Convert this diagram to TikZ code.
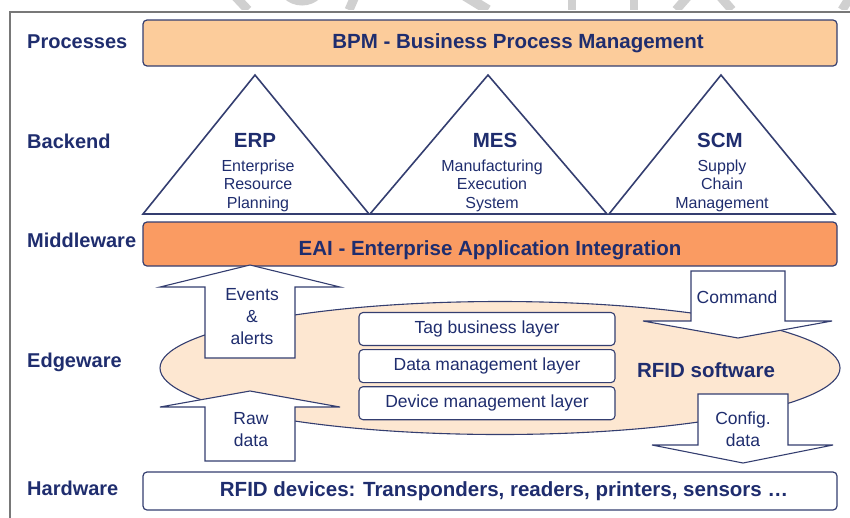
\documentclass[tikz,border=0pt]{standalone}
\usepackage{fontspec}
\setmainfont{Liberation Sans}
\usetikzlibrary{positioning,shapes.geometric}
\definecolor{rfidNavy}{RGB}{31,45,110}
\definecolor{rfidLine}{RGB}{52,62,112}
\definecolor{rfidLightOrange}{RGB}{252,204,155}
\definecolor{rfidOrange}{RGB}{250,155,98}
\definecolor{rfidPeach}{RGB}{253,231,209}
\definecolor{rfidFrame}{RGB}{120,120,120}
\definecolor{rfidMark}{RGB}{208,208,208}

\begin{document}
\begin{tikzpicture}[x=1pt, y=-1pt,
    tier/.style={anchor=west, inner sep=0pt, text=rfidNavy, font=\bfseries\fontsize{20}{22}\selectfont},
    bar/.style={draw=rfidLine, line width=1.2pt, rounded corners=4pt, minimum width=694pt, inner sep=0pt},
    bartext/.style={text=rfidNavy, inner sep=0pt, font=\bfseries\fontsize{20.5}{22}\selectfont},
    layerbox/.style={draw=rfidLine, line width=1.1pt, rounded corners=4pt, fill=white, minimum width=256pt, minimum height=33pt, inner sep=0pt, text=rfidNavy, font=\fontsize{17.5}{19}\selectfont},
    flow/.style={draw=rfidLine, line width=1.1pt, fill=white},
    flowtext/.style={text=rfidNavy, align=center, inner sep=0pt, font=\fontsize{17.5}{22}\selectfont},
    apptitle/.style={text=rfidNavy, inner sep=0pt, font=\bfseries\fontsize{20.5}{22}\selectfont},
    appname/.style={text=rfidNavy, align=center, inner sep=0pt, font=\fontsize{16}{18.5}\selectfont},
    app/.style={draw=rfidLine, line width=1.6pt, line join=miter}]
    \useasboundingbox (0,0) rectangle (850,517);

    % watermark and frame
    \begin{scope}
        \clip (0,0) rectangle (850,9);
        \draw[rfidMark, line width=9pt] (233,-6) -- (248,10);
        \draw[rfidMark, line width=9pt] (302,-21) circle (22pt);
        \draw[rfidMark, line width=9pt] (356,-6) -- (349,10);
        \draw[rfidMark, line width=10pt] (462,-6) -- (488,10);
        \draw[rfidMark, line width=8pt] (572,-6) -- (572,10);
        \draw[rfidMark, line width=8pt] (634,-6) -- (634,10);
        \draw[rfidMark, line width=9pt] (690,-6) -- (676,10);
        \draw[rfidMark, line width=9pt] (718,-6) -- (732,10);
        \draw[rfidMark, line width=9pt] (852,-6) -- (842,10);
    \end{scope}
    \draw[rfidFrame, line width=1.4pt] (10,530) -- (10,12) -- (860,12);

    % tiers
    \node[tier] (processes) at (27,42) {Processes};
    \node[tier] (backend) at (27,141) {Backend};
    \node[tier] (middleware) at (27,240) {Middleware};
    \node[tier] (edgeware) at (27,362) {Edgeware};
    \node[tier] (hardware) at (27,488) {Hardware};

    % processes
    \node[bar, fill=rfidLightOrange, minimum height=46pt] (bpm) at (490,43) {};
    \node[bartext, xshift=28pt] at (bpm) {BPM - Business Process Management};

    % backend
    \draw[app] (143,214) -- (255,75) -- (369,214) -- cycle;
    \draw[app] (370,214) -- (488,75) -- (607,214) -- cycle;
    \draw[app] (609,214) -- (721,75) -- (835,214) -- cycle;
    \node[apptitle] (erp) at (255,140) {ERP};
    \node[appname, below=12pt of erp, xshift=3pt] {Enterprise\\Resource\\Planning};
    \node[apptitle] (mes) at (495,140) {MES};
    \node[appname, below=12pt of mes, xshift=-3pt] {Manufacturing\\Execution\\System};
    \node[apptitle] (scm) at (720,140) {SCM};
    \node[appname, below=12pt of scm, xshift=2pt] {Supply\\Chain\\Management};

    % middleware
    \node[bar, fill=rfidOrange, minimum height=44pt] (eai) at (490,244) {};
    \node[bartext, yshift=-6pt] at (eai) {EAI - Enterprise Application Integration};

    % edgeware
    \node[draw=rfidLine, line width=1.1pt, fill=rfidPeach, ellipse, minimum width=680pt, minimum height=133pt, inner sep=0pt] (rfid) at (500,368) {};
    \draw[flow] (205,358) -- (205,287) -- (160,287) -- (250,265) -- (340,287) -- (295,287) -- (295,358) -- cycle;
    \draw[flow] (205,461) -- (205,407) -- (160,407) -- (250,391) -- (340,407) -- (295,407) -- (295,461) -- cycle;
    \draw[flow] (691,271) -- (691,321) -- (643,321) -- (738,338) -- (832,321) -- (785,321) -- (785,271) -- cycle;
    \draw[flow] (698,394) -- (698,445) -- (652,445) -- (743,463) -- (833,445) -- (788,445) -- (788,394) -- cycle;
    \node[flowtext] (events) at (252,317) {Events\\\&\\alerts};
    \node[flowtext] (raw) at (251,430) {Raw\\data};
    \node[flowtext] (command) at (737,297) {Command};
    \node[flowtext] (config) at (743,429) {Config.\\data};
    \node[layerbox] (tag) at (487,329) {Tag business layer};
    \node[layerbox, below=3pt of tag] (datamgmt) {Data management layer};
    \node[layerbox, below=3pt of datamgmt] (devmgmt) {Device management layer};
    \node[bartext] (software) at (706,370) {RFID software};

    % hardware
    \node[bar, fill=white, minimum height=38pt] (devices) at (490,491) {};
    \node[bartext, xshift=14pt] at (devices) {RFID devices: Transponders, readers, printers, sensors \dots};
\end{tikzpicture}
\end{document}
